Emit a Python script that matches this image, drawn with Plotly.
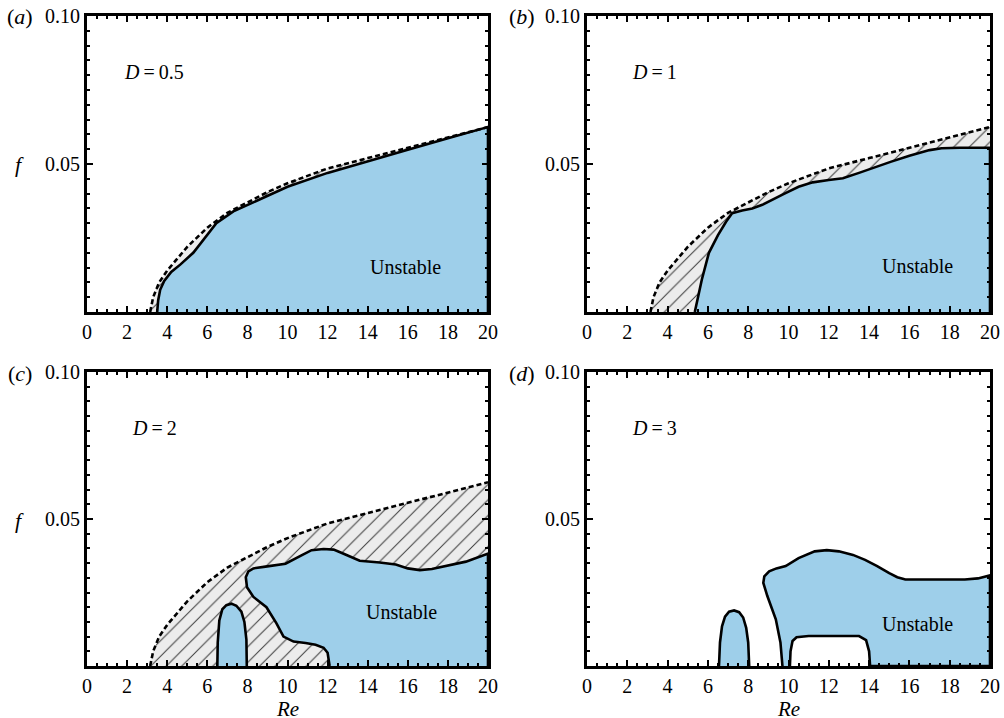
import plotly.graph_objects as go

# ---- data (Re, f) ----
neutral_re = [3.15, 3.3, 3.6, 4.0, 5.0, 6.0, 7.0, 8.0, 9.0, 10.0, 12.0, 14.0, 16.0, 18.0, 20.0]
neutral_f = [0.0, 0.005, 0.010, 0.014, 0.022, 0.0285, 0.0335, 0.037, 0.0405, 0.0435, 0.0485, 0.052, 0.0555, 0.059, 0.0625]

a_re = [3.5, 3.55, 3.65, 3.85, 4.2, 4.65, 5.3, 5.95, 6.45, 7.3, 8.0, 10.0, 12.0, 14.0, 16.0, 18.0, 20.0]
a_f = [0.0, 0.004, 0.0075, 0.0105, 0.0135, 0.016, 0.020, 0.0255, 0.030, 0.034, 0.0362, 0.0423, 0.047, 0.0508, 0.0548, 0.0587, 0.0625]

b_re = [5.35, 5.45, 5.7, 6.05, 6.5, 6.9, 7.2, 7.7, 8.2, 8.7, 9.2, 9.8, 10.5, 11.2, 12.0, 12.7, 13.5, 14.3, 15.1, 16.0, 17.0, 17.6, 18.5, 20.0]
b_f = [0.0, 0.003, 0.011, 0.020, 0.026, 0.0305, 0.0334, 0.0343, 0.035, 0.0362, 0.0378, 0.040, 0.0423, 0.0438, 0.0446, 0.0452, 0.047, 0.049, 0.0508, 0.0528, 0.0547, 0.0553, 0.0555, 0.0555]

c_re = [12.1, 12.0, 11.8, 11.4, 10.9, 10.3, 9.8, 9.45, 8.95, 8.3, 7.98, 7.92, 8.05, 8.3, 8.9, 9.9, 10.6, 11.2, 11.8, 12.3, 12.8, 13.6, 14.6, 15.4, 16.0, 16.6, 17.2, 17.8, 18.9, 20.0, 20.0]
c_f = [0.0, 0.0045, 0.0062, 0.0072, 0.0078, 0.0083, 0.0100, 0.0145, 0.0200, 0.0235, 0.0268, 0.0302, 0.0322, 0.0332, 0.0338, 0.0348, 0.0373, 0.0394, 0.0398, 0.0396, 0.0382, 0.0358, 0.0352, 0.0345, 0.0332, 0.0326, 0.0330, 0.0338, 0.0355, 0.0382, 0.0]
c_blob_re = [6.5, 6.52, 6.6, 6.75, 6.95, 7.2, 7.45, 7.7, 7.85, 7.95, 7.97]
c_blob_f = [0.0, 0.008, 0.0155, 0.0193, 0.0207, 0.0212, 0.0205, 0.0185, 0.015, 0.009, 0.0]

d_re = [9.7, 9.6, 9.37, 9.15, 8.95, 8.75, 8.8, 9.04, 9.4, 9.86, 10.5, 11.3, 11.9, 12.5, 13.2, 13.8, 14.4, 15.0, 15.4, 15.8, 17.0, 18.75, 19.4, 19.9, 20.0, 20.0, 14.05, 14.0, 13.85, 13.5, 11.0, 10.4, 10.2, 10.1, 10.07]
d_f = [0.0, 0.008, 0.0159, 0.020, 0.0238, 0.0283, 0.0305, 0.0322, 0.0332, 0.034, 0.0367, 0.039, 0.0394, 0.039, 0.0378, 0.0361, 0.034, 0.0316, 0.0302, 0.0294, 0.0294, 0.0294, 0.0298, 0.0307, 0.0308, 0.0, 0.0, 0.005, 0.0088, 0.0102, 0.0102, 0.0098, 0.0085, 0.005, 0.0]
d_blob_re = [6.55, 6.6, 6.7, 6.85, 7.05, 7.3, 7.55, 7.75, 7.9, 8.0, 8.05]
d_blob_f = [0.0, 0.008, 0.0135, 0.0168, 0.0185, 0.0189, 0.0183, 0.0165, 0.013, 0.008, 0.0]

panel_labels = ["a", "b", "c", "d"]
d_values = ["0.5", "1", "2", "3"]
x_ticks = [0, 2, 4, 6, 8, 10, 12, 14, 16, 18, 20]
y_ticks = [0.0, 0.05, 0.10]
y_ticktext = ["", "0.05", "0.10"]

BLUE = "#9ecfea"
HATCH_BG = "#ececec"
FONT = "Liberation Serif"
W, H = 1004, 718


def px_x(p):
    return p / W


def px_y(p):
    return 1 - p / H


fig = go.Figure()
axes = [("x", "y"), ("x2", "y2"), ("x3", "y3"), ("x4", "y4")]


def hatched(ax):
    xa, ya = ax
    fig.add_trace(go.Scatter(
        x=neutral_re + [20.0], y=neutral_f + [0.0], xaxis=xa, yaxis=ya,
        mode="lines", fill="toself", line=dict(width=0, color="rgba(0,0,0,0)"),
        fillcolor=HATCH_BG,
        fillpattern=dict(shape="/", bgcolor=HATCH_BG, fgcolor="#3a3a3a",
                         size=11, solidity=0.09, fillmode="replace"),
        hoverinfo="skip", showlegend=False))


def blue(ax, xs, ys, close_right=False):
    xa, ya = ax
    if close_right:
        xs = xs + [20.0]
        ys = ys + [0.0]
    fig.add_trace(go.Scatter(
        x=xs, y=ys, xaxis=xa, yaxis=ya, mode="lines", fill="toself",
        fillcolor=BLUE, line=dict(color="black", width=2.6),
        hoverinfo="skip", showlegend=False))


def dashed(ax):
    xa, ya = ax
    fig.add_trace(go.Scatter(
        x=neutral_re, y=neutral_f, xaxis=xa, yaxis=ya, mode="lines",
        line=dict(color="black", width=2.6, dash="5px,3px"),
        hoverinfo="skip", showlegend=False))


# (a)
hatched(axes[0]); blue(axes[0], a_re, a_f, True); dashed(axes[0])
# (b)
hatched(axes[1]); blue(axes[1], b_re, b_f, True); dashed(axes[1])
# (c)
hatched(axes[2]); blue(axes[2], c_re, c_f); blue(axes[2], c_blob_re, c_blob_f); dashed(axes[2])
# (d)
blue(axes[3], d_blob_re, d_blob_f); blue(axes[3], d_re, d_f)

# panel boxes in reference pixels
xdom = [(87, 488), (587, 990)]
ydom = [(16, 312), (372, 666)]

tickfont = dict(family=FONT, size=20, color="black")
layout = dict(width=W, height=H, margin=dict(l=0, r=0, t=0, b=0, pad=0, autoexpand=False),
              paper_bgcolor="white", plot_bgcolor="white", showlegend=False,
              font=dict(family=FONT, color="black"))

for i in range(4):
    r, c = divmod(i, 2)
    xs = "" if i == 0 else str(i + 1)
    xd = [px_x(xdom[c][0]), px_x(xdom[c][1])]
    yd = [px_y(ydom[r][1]), px_y(ydom[r][0])]
    layout["xaxis" + xs] = dict(
        domain=xd, anchor="y" + xs, range=[0, 20], tickmode="array", tickvals=x_ticks,
        ticktext=[str(v) for v in x_ticks], ticks="inside", ticklen=6, tickwidth=1.6,
        tickcolor="black", showline=True, linewidth=2.8, linecolor="black",
        mirror="allticks", showgrid=False, zeroline=False, tickfont=tickfont,
        automargin=False, ticklabeloverflow="allow",
        minor=dict(ticks="inside", ticklen=3.5, tickwidth=1.5, tickcolor="black",
                   dtick=0.5, tick0=0, showgrid=False),
        fixedrange=True)
    layout["yaxis" + xs] = dict(
        domain=yd, anchor="x" + xs, range=[0, 0.1], tickmode="array", tickvals=y_ticks,
        ticktext=y_ticktext, ticks="inside", ticklen=6, tickwidth=1.6, tickcolor="black",
        showline=True, linewidth=2.8, linecolor="black", mirror="allticks",
        showgrid=False, zeroline=False, tickfont=tickfont, automargin=False,
        ticklabeloverflow="allow",
        minor=dict(ticks="inside", ticklen=3.5, tickwidth=1.5, tickcolor="black",
                   dtick=0.005, tick0=0, showgrid=False),
        fixedrange=True)

fig.update_layout(**layout)

ann = []
label_x = [20, 522]
label_y = [17, 373]
for i in range(4):
    r, c = divmod(i, 2)
    xs = "" if i == 0 else str(i + 1)
    ann.append(dict(text="(<i>%s</i>)" % panel_labels[i], xref="paper", yref="paper",
                    x=px_x(label_x[c]), y=px_y(label_y[r]), xanchor="center", yanchor="middle",
                    showarrow=False, font=dict(family=FONT, size=22, color="black")))
    ann.append(dict(text="<i>D</i>\u2009=\u2009" + d_values[i], xref="x" + xs, yref="y" + xs,
                    x=3.35, y=0.081, xanchor="center", yanchor="middle", showarrow=False,
                    font=dict(family=FONT, size=20, color="black")))
# Unstable labels
unst = [(15.9, 0.0152), (16.4, 0.0155), (15.7, 0.0182), (16.4, 0.0142)]
for i in range(4):
    xs = "" if i == 0 else str(i + 1)
    ann.append(dict(text="Unstable", xref="x" + xs, yref="y" + xs, x=unst[i][0], y=unst[i][1],
                    xanchor="center", yanchor="middle", showarrow=False,
                    font=dict(family=FONT, size=20, color="black")))
# f labels
for r in range(2):
    yc = 164 if r == 0 else 520
    ann.append(dict(text="<i>f</i>", xref="paper", yref="paper", x=px_x(19), y=px_y(yc),
                    xanchor="center", yanchor="middle", showarrow=False,
                    font=dict(family=FONT, size=22, color="black")))
# Re labels
for xs in ["3", "4"]:
    ann.append(dict(text="<i>Re</i>", xref="x" + xs, yref="paper", x=10, y=px_y(709),
                    xanchor="center", yanchor="middle", showarrow=False,
                    font=dict(family=FONT, size=21, color="black")))

fig.update_layout(annotations=ann)
fig.write_html("out.html", config={"displayModeBar": False},
               post_script="document.body.style.margin='0';document.body.style.overflow='hidden';")
